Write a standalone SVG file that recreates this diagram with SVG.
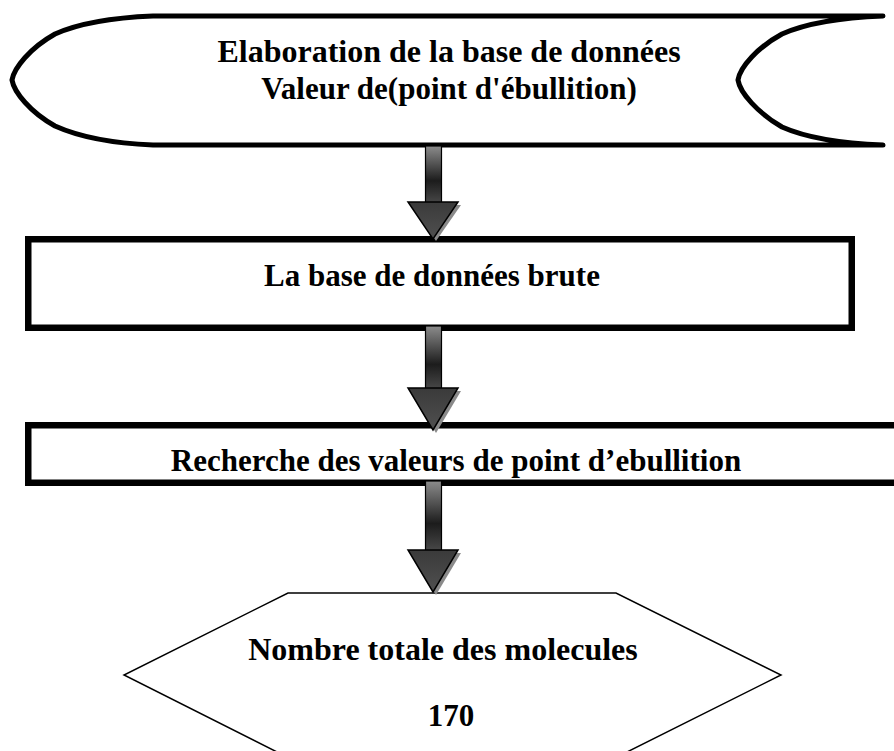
<svg xmlns="http://www.w3.org/2000/svg" width="894" height="751" viewBox="0 0 894 751">
  <defs>
    <linearGradient id="shaftGrad" x1="0" y1="0" x2="0" y2="1">
      <stop offset="0" stop-color="#8c8c8c"/>
      <stop offset="0.6" stop-color="#1c1c1c"/>
      <stop offset="1" stop-color="#4a4a4a"/>
    </linearGradient>
    <linearGradient id="headGrad" x1="0" y1="0" x2="0" y2="1">
      <stop offset="0" stop-color="#3a3a3a"/>
      <stop offset="1" stop-color="#505050"/>
    </linearGradient>
  </defs>
  <style>
    .lbl { font-family: "Liberation Serif", "Times New Roman", serif; font-weight: bold; fill: #000; text-anchor: middle; }
    .thick { fill: #fff; stroke: #000; stroke-width: 6.5; }
    .shaft { fill: url(#shaftGrad); stroke: #000; stroke-width: 1.2; }
    .head { fill: url(#headGrad); stroke: #000; stroke-width: 1.5; stroke-linejoin: miter; }
    .shadow { fill: #8a8a8a; }
  </style>

  <!-- stored data terminal -->
  <g id="node-elaboration">
    <path d="M883,16 L153,16 C105,18 75,25 55,34 C30,48 14,68 12,80 C14,92 30,112 55,126 C75,135 105,143 153,145 L883,145 C830,143 800,135 782,127 C758,113 740,93 738,80 C740,67 758,47 782,34 C800,26 830,18 883,16 Z" fill="#fff" stroke="#000" stroke-width="5" stroke-linejoin="round"/>
    <text class="lbl" x="449" y="62" font-size="32">Elaboration de la base de données</text>
    <text class="lbl" x="449" y="99" font-size="31">Valeur de(point d'ébullition)</text>
  </g>

  <!-- raw database -->
  <g id="node-base-brute">
    <rect class="thick" x="28.25" y="239.25" width="823.5" height="88.5"/>
    <text class="lbl" x="432" y="286" font-size="31">La base de données brute</text>
  </g>

  <!-- search step -->
  <g id="node-recherche">
    <rect class="thick" x="28.25" y="425.25" width="880" height="57.5"/>
    <text class="lbl" x="456" y="471" font-size="31">Recherche des valeurs de point d’ebullition</text>
  </g>

  <!-- total count -->
  <g id="node-total">
    <polygon points="288,593 616,593 781,675 617,757 287,757 124,675" fill="#fff" stroke="#000" stroke-width="1.5"/>
    <text class="lbl" x="443" y="660" font-size="32">Nombre totale des molecules</text>
    <text class="lbl" x="451" y="726" font-size="31">170</text>
  </g>

  <!-- block arrows -->
  <g id="connectors">
    <g id="arrow-1">
      <polygon class="shadow" points="411,205 461,205 436,241"/>
      <rect class="shaft" x="425.5" y="146" width="16" height="58"/>
      <polygon class="head" points="408,202 458,202 433,239"/>
    </g>
    <g id="arrow-2">
      <polygon class="shadow" points="411,391 461,391 436,433"/>
      <rect class="shaft" x="425.5" y="326" width="16" height="64"/>
      <polygon class="head" points="408,388 458,388 433,430"/>
    </g>
    <g id="arrow-3">
      <polygon class="shadow" points="411,553 461,553 436,595"/>
      <rect class="shaft" x="425.5" y="481" width="16" height="71"/>
      <polygon class="head" points="408,550 458,550 433,592"/>
    </g>
  </g>
</svg>
